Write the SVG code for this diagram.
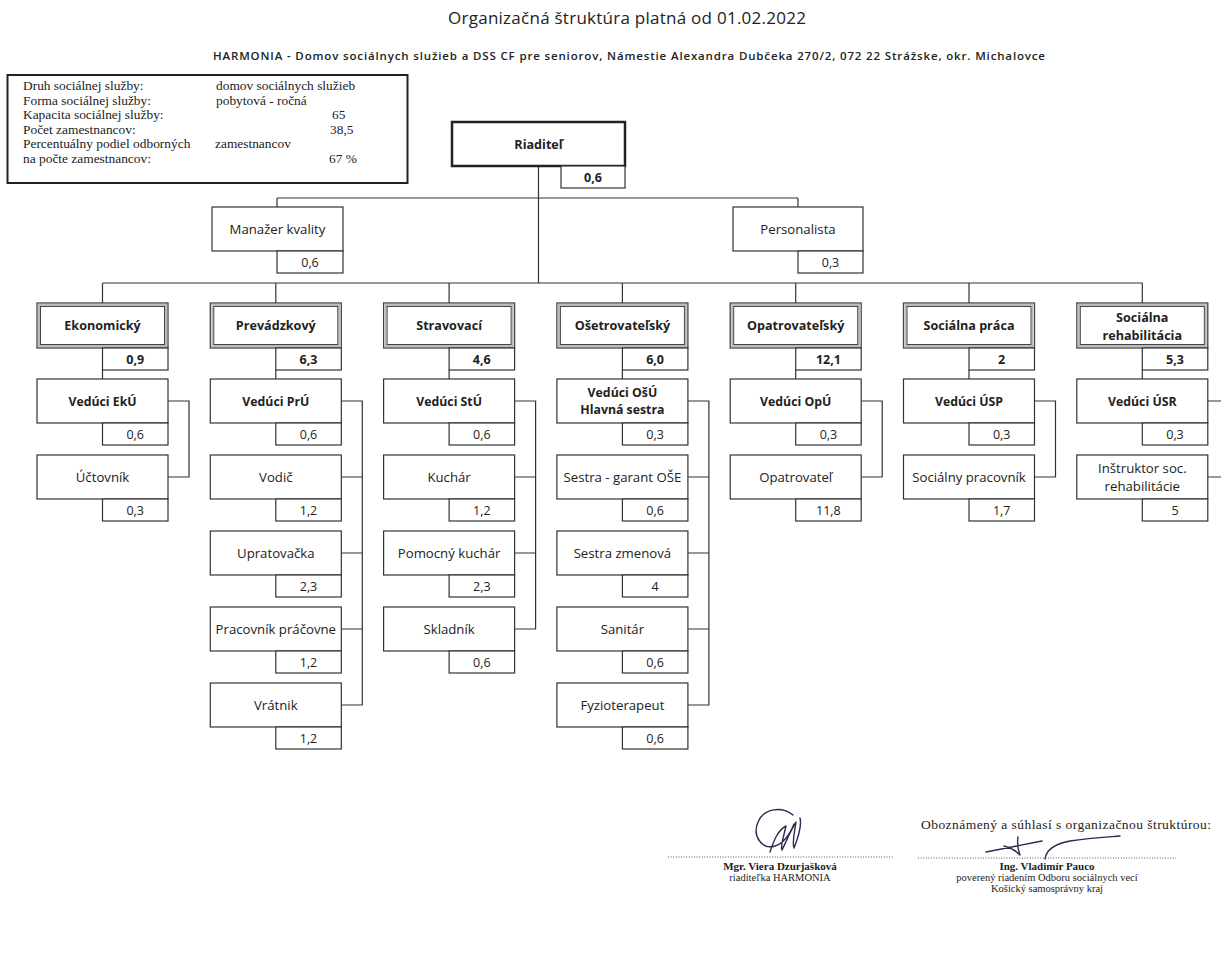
<svg xmlns="http://www.w3.org/2000/svg" width="1221" height="972" viewBox="0 0 1221 972">
<style>
  text { font-family: "Open Sans", "Noto Sans", sans-serif; fill: #222; }
  .t { font-size: 17px; }
  .st { font-size: 11.5px; font-weight: 600; }
  .c { text-anchor: middle; font-size: 13.2px; }
  .n { text-anchor: middle; font-size: 12.5px; }
  .b { font-weight: bold; font-size: 12.3px; }
  .nb { font-weight: bold; }
  .d { text-anchor: middle; font-size: 12.6px; font-weight: bold; }
  .ser { font-family: "Liberation Serif", "Times New Roman", serif; font-size: 13.4px; fill: #222; }
  .sig { font-family: "Liberation Serif", "Times New Roman", serif; font-size: 10.5px; fill: #222; text-anchor: middle; }
  .sigb { font-weight: bold; font-size: 11px; }
  .obz { font-size: 13.5px; }
  .box { fill: #fff; stroke: #333; stroke-width: 1.2; }
  .dout { fill: #fff; stroke: #444; stroke-width: 1.3; }
  .dmid { fill: none; stroke: #bbb; stroke-width: 2; }
  .din { fill: none; stroke: #444; stroke-width: 1; }
  .ln { fill: none; stroke: #333; stroke-width: 1.2; }
  .dot { stroke: #555; stroke-width: 1; stroke-dasharray: 1 1.6; }
  .ink { fill: none; stroke: #2a2a50; stroke-width: 1.4; stroke-linecap: round; stroke-linejoin: round; }
</style>
<rect width="1221" height="972" fill="#fff"/>

<text class="t" x="627" y="24" text-anchor="middle" textLength="358" lengthAdjust="spacing">Organizačná štruktúra platná od 01.02.2022</text>
<text class="st" x="629" y="60" text-anchor="middle" textLength="832" lengthAdjust="spacing">HARMONIA - Domov sociálnych služieb a DSS CF pre seniorov, Námestie Alexandra Dubčeka 270/2, 072 22 Strážske, okr. Michalovce</text>

<g id="info">
  <rect x="7.5" y="75" width="400" height="108" fill="#fff" stroke="#222" stroke-width="2"/>
  <text class="ser" x="23" y="90">Druh sociálnej služby:</text>
  <text class="ser" x="216" y="90">domov sociálnych služieb</text>
  <text class="ser" x="23" y="104.5">Forma sociálnej služby:</text>
  <text class="ser" x="216" y="104.5">pobytová - ročná</text>
  <text class="ser" x="23" y="119">Kapacita sociálnej služby:</text>
  <text class="ser" x="332" y="119">65</text>
  <text class="ser" x="23" y="133.5">Počet zamestnancov:</text>
  <text class="ser" x="330" y="133.5">38,5</text>
  <text class="ser" x="23" y="148">Percentuálny podiel odborných</text>
  <text class="ser" x="215" y="148">zamestnancov</text>
  <text class="ser" x="23" y="162.5">na počte zamestnancov:</text>
  <text class="ser" x="329" y="162.5">67 %</text>
</g>

<g id="connectors">
  <path class="ln" d="M538.5 166 V283 M277 198 H798 M277 198 V207 M798 198 V207"/>
  <path class="ln" d="M102.5 283 H1142.5 M102.5 283 V303 M275.8 283 V303 M449.1 283 V303 M622.4 283 V303 M795.7 283 V303 M969 283 V303 M1142.3 283 V303"/>
  <path class="ln" d="M102.5 370 V379 M275.8 370 V379 M449.1 370 V379 M622.4 370 V379 M795.7 370 V379 M969 370 V379 M1142.3 370 V379"/>
  <path class="ln" d="M168 401 H189 V477 H168"/>
  <path class="ln" d="M341.3 401 H362.3 V705 H341.3 M341.3 477 H362.3 M341.3 553 H362.3 M341.3 629 H362.3"/>
  <path class="ln" d="M514.6 401 H535.6 V629 H514.6 M514.6 477 H535.6 M514.6 553 H535.6"/>
  <path class="ln" d="M687.9 401 H708.9 V705 H687.9 M687.9 477 H708.9 M687.9 553 H708.9 M687.9 629 H708.9"/>
  <path class="ln" d="M861.2 401 H882.2 V477 H861.2"/>
  <path class="ln" d="M1034.5 401 H1055.5 V477 H1034.5"/>
  <path class="ln" d="M1207.8 401 H1221 M1207.8 477 H1221"/>
</g>

<g id="riaditel">
  <rect x="452" y="122" width="173" height="44" fill="#fff" stroke="#222" stroke-width="2.5"/>
  <text class="d" x="538.5" y="148.5">Riaditeľ</text>
  <rect class="box" x="561" y="166" width="64" height="22"/>
  <text class="n nb" x="593" y="181.5">0,6</text>
</g>

<g id="manazer">
  <rect class="box" x="212" y="207" width="131" height="44"/>
  <text class="c" x="277.5" y="233.5">Manažer kvality</text>
  <rect class="box" x="277" y="251" width="66" height="22"/>
  <text class="n" x="310" y="266.5">0,6</text>
</g>

<g id="personalista">
  <rect class="box" x="733" y="207" width="130" height="44"/>
  <text class="c" x="798" y="233.5">Personalista</text>
  <rect class="box" x="798" y="251" width="65" height="22"/>
  <text class="n" x="830.5" y="266.5">0,3</text>
</g>

<g id="ekonomicky">
  <rect class="dout" x="37" y="303" width="131" height="45"/><rect class="dmid" x="39" y="305" width="127" height="41"/><rect class="din" x="40.5" y="306.5" width="124" height="38"/>
  <text class="d" x="102.5" y="330">Ekonomický</text>
  <rect class="box" x="102.5" y="348" width="65.5" height="22"/><text class="n nb" x="135.2" y="363.5">0,9</text>
</g>
<g id="prevadzkovy">
  <rect class="dout" x="210.3" y="303" width="131" height="45"/><rect class="dmid" x="212.3" y="305" width="127" height="41"/><rect class="din" x="213.8" y="306.5" width="124" height="38"/>
  <text class="d" x="275.8" y="330">Prevádzkový</text>
  <rect class="box" x="275.8" y="348" width="65.5" height="22"/><text class="n nb" x="308.5" y="363.5">6,3</text>
</g>
<g id="stravovaci">
  <rect class="dout" x="383.6" y="303" width="131" height="45"/><rect class="dmid" x="385.6" y="305" width="127" height="41"/><rect class="din" x="387.1" y="306.5" width="124" height="38"/>
  <text class="d" x="449.1" y="330">Stravovací</text>
  <rect class="box" x="449.1" y="348" width="65.5" height="22"/><text class="n nb" x="481.8" y="363.5">4,6</text>
</g>
<g id="osetrovatelsky">
  <rect class="dout" x="556.9" y="303" width="131" height="45"/><rect class="dmid" x="558.9" y="305" width="127" height="41"/><rect class="din" x="560.4" y="306.5" width="124" height="38"/>
  <text class="d" x="622.4" y="330">Ošetrovateľský</text>
  <rect class="box" x="622.4" y="348" width="65.5" height="22"/><text class="n nb" x="655.1" y="363.5">6,0</text>
</g>
<g id="opatrovatelsky">
  <rect class="dout" x="730.2" y="303" width="131" height="45"/><rect class="dmid" x="732.2" y="305" width="127" height="41"/><rect class="din" x="733.7" y="306.5" width="124" height="38"/>
  <text class="d" x="795.7" y="330">Opatrovateľský</text>
  <rect class="box" x="795.7" y="348" width="65.5" height="22"/><text class="n nb" x="828.4" y="363.5">12,1</text>
</g>
<g id="socialna-praca">
  <rect class="dout" x="903.5" y="303" width="131" height="45"/><rect class="dmid" x="905.5" y="305" width="127" height="41"/><rect class="din" x="907" y="306.5" width="124" height="38"/>
  <text class="d" x="969" y="330">Sociálna práca</text>
  <rect class="box" x="969" y="348" width="65.5" height="22"/><text class="n nb" x="1001.7" y="363.5">2</text>
</g>
<g id="socialna-rehabilitacia">
  <rect class="dout" x="1076.8" y="303" width="131" height="45"/><rect class="dmid" x="1078.8" y="305" width="127" height="41"/><rect class="din" x="1080.3" y="306.5" width="124" height="38"/>
  <text class="d" x="1142.3" y="321.5">Sociálna</text>
  <text class="d" x="1142.3" y="339.5">rehabilitácia</text>
  <rect class="box" x="1142.3" y="348" width="65.5" height="22"/><text class="n nb" x="1175" y="363.5">5,3</text>
</g>

<g id="veduci-eku">
  <rect class="box" x="37" y="379" width="131" height="44"/><text class="c b" x="102.5" y="405.5">Vedúci EkÚ</text>
  <rect class="box" x="102.5" y="423" width="65.5" height="22"/><text class="n" x="135.2" y="438.5">0,6</text>
</g>
<g id="uctovnik">
  <rect class="box" x="37" y="455" width="131" height="44"/><text class="c" x="102.5" y="481.5">Účtovník</text>
  <rect class="box" x="102.5" y="499" width="65.5" height="22"/><text class="n" x="135.2" y="514.5">0,3</text>
</g>

<g id="veduci-pru">
  <rect class="box" x="210.3" y="379" width="131" height="44"/><text class="c b" x="275.8" y="405.5">Vedúci PrÚ</text>
  <rect class="box" x="275.8" y="423" width="65.5" height="22"/><text class="n" x="308.5" y="438.5">0,6</text>
</g>
<g id="vodic">
  <rect class="box" x="210.3" y="455" width="131" height="44"/><text class="c" x="275.8" y="481.5">Vodič</text>
  <rect class="box" x="275.8" y="499" width="65.5" height="22"/><text class="n" x="308.5" y="514.5">1,2</text>
</g>
<g id="upratovacka">
  <rect class="box" x="210.3" y="531" width="131" height="44"/><text class="c" x="275.8" y="557.5">Upratovačka</text>
  <rect class="box" x="275.8" y="575" width="65.5" height="22"/><text class="n" x="308.5" y="590.5">2,3</text>
</g>
<g id="pracovnik-pracovne">
  <rect class="box" x="210.3" y="607" width="131" height="44"/><text class="c" x="275.8" y="633.5">Pracovník práčovne</text>
  <rect class="box" x="275.8" y="651" width="65.5" height="22"/><text class="n" x="308.5" y="666.5">1,2</text>
</g>
<g id="vratnik">
  <rect class="box" x="210.3" y="683" width="131" height="44"/><text class="c" x="275.8" y="709.5">Vrátnik</text>
  <rect class="box" x="275.8" y="727" width="65.5" height="22"/><text class="n" x="308.5" y="742.5">1,2</text>
</g>

<g id="veduci-stu">
  <rect class="box" x="383.6" y="379" width="131" height="44"/><text class="c b" x="449.1" y="405.5">Vedúci StÚ</text>
  <rect class="box" x="449.1" y="423" width="65.5" height="22"/><text class="n" x="481.8" y="438.5">0,6</text>
</g>
<g id="kuchar">
  <rect class="box" x="383.6" y="455" width="131" height="44"/><text class="c" x="449.1" y="481.5">Kuchár</text>
  <rect class="box" x="449.1" y="499" width="65.5" height="22"/><text class="n" x="481.8" y="514.5">1,2</text>
</g>
<g id="pomocny-kuchar">
  <rect class="box" x="383.6" y="531" width="131" height="44"/><text class="c" x="449.1" y="557.5">Pomocný kuchár</text>
  <rect class="box" x="449.1" y="575" width="65.5" height="22"/><text class="n" x="481.8" y="590.5">2,3</text>
</g>
<g id="skladnik">
  <rect class="box" x="383.6" y="607" width="131" height="44"/><text class="c" x="449.1" y="633.5">Skladník</text>
  <rect class="box" x="449.1" y="651" width="65.5" height="22"/><text class="n" x="481.8" y="666.5">0,6</text>
</g>

<g id="veduci-osu">
  <rect class="box" x="556.9" y="379" width="131" height="44"/>
  <text class="c b" x="622.4" y="397">Vedúci OšÚ</text>
  <text class="c b" x="622.4" y="414">Hlavná sestra</text>
  <rect class="box" x="622.4" y="423" width="65.5" height="22"/><text class="n" x="655.1" y="438.5">0,3</text>
</g>
<g id="sestra-garant">
  <rect class="box" x="556.9" y="455" width="131" height="44"/><text class="c" x="622.4" y="481.5">Sestra - garant OŠE</text>
  <rect class="box" x="622.4" y="499" width="65.5" height="22"/><text class="n" x="655.1" y="514.5">0,6</text>
</g>
<g id="sestra-zmenova">
  <rect class="box" x="556.9" y="531" width="131" height="44"/><text class="c" x="622.4" y="557.5">Sestra zmenová</text>
  <rect class="box" x="622.4" y="575" width="65.5" height="22"/><text class="n" x="655.1" y="590.5">4</text>
</g>
<g id="sanitar">
  <rect class="box" x="556.9" y="607" width="131" height="44"/><text class="c" x="622.4" y="633.5">Sanitár</text>
  <rect class="box" x="622.4" y="651" width="65.5" height="22"/><text class="n" x="655.1" y="666.5">0,6</text>
</g>
<g id="fyzioterapeut">
  <rect class="box" x="556.9" y="683" width="131" height="44"/><text class="c" x="622.4" y="709.5">Fyzioterapeut</text>
  <rect class="box" x="622.4" y="727" width="65.5" height="22"/><text class="n" x="655.1" y="742.5">0,6</text>
</g>

<g id="veduci-opu">
  <rect class="box" x="730.2" y="379" width="131" height="44"/><text class="c b" x="795.7" y="405.5">Vedúci OpÚ</text>
  <rect class="box" x="795.7" y="423" width="65.5" height="22"/><text class="n" x="828.4" y="438.5">0,3</text>
</g>
<g id="opatrovatel">
  <rect class="box" x="730.2" y="455" width="131" height="44"/><text class="c" x="795.7" y="481.5">Opatrovateľ</text>
  <rect class="box" x="795.7" y="499" width="65.5" height="22"/><text class="n" x="828.4" y="514.5">11,8</text>
</g>

<g id="veduci-usp">
  <rect class="box" x="903.5" y="379" width="131" height="44"/><text class="c b" x="969" y="405.5">Vedúci ÚSP</text>
  <rect class="box" x="969" y="423" width="65.5" height="22"/><text class="n" x="1001.7" y="438.5">0,3</text>
</g>
<g id="socialny-pracovnik">
  <rect class="box" x="903.5" y="455" width="131" height="44"/><text class="c" x="969" y="481.5">Sociálny pracovník</text>
  <rect class="box" x="969" y="499" width="65.5" height="22"/><text class="n" x="1001.7" y="514.5">1,7</text>
</g>

<g id="veduci-usr">
  <rect class="box" x="1076.8" y="379" width="131" height="44"/><text class="c b" x="1142.3" y="405.5">Vedúci ÚSR</text>
  <rect class="box" x="1142.3" y="423" width="65.5" height="22"/><text class="n" x="1175" y="438.5">0,3</text>
</g>
<g id="instruktor">
  <rect class="box" x="1076.8" y="455" width="131" height="44"/>
  <text class="c" x="1142.3" y="473">Inštruktor soc.</text>
  <text class="c" x="1142.3" y="490.5">rehabilitácie</text>
  <rect class="box" x="1142.3" y="499" width="65.5" height="22"/><text class="n" x="1175" y="514.5">5</text>
</g>

<g id="signatures">
  <text class="sig obz" x="1066" y="829" textLength="290" lengthAdjust="spacing">Oboznámený a súhlasí s organizačnou štruktúrou:</text>
  <path class="ink" d="M793 815 C782 806 764 808 758 822 C752 836 762 850 775 846 C784 843 790 834 794 824 M770 852 C774 840 778 830 786 826 C784 836 780 846 782 850 C786 842 790 832 796 822 C794 834 792 844 794 848 C798 838 802 826 800 818"/>
  <line class="dot" x1="668" y1="857" x2="893" y2="857"/>
  <text class="sig sigb" x="780" y="870">Mgr. Viera Dzurjašková</text>
  <text class="sig" x="780" y="881">riaditeľka HARMONIA</text>
  <path class="ink" d="M986 852 C1002 849 1022 845 1042 841 M1004 846 C1012 848 1016 851 1020 855 C1018 850 1017 844 1018 837 M1045 859 C1046 851 1054 844 1070 841 C1090 838 1108 837 1120 836"/>
  <line class="dot" x1="918" y1="858" x2="1176" y2="858"/>
  <text class="sig sigb" x="1047" y="870">Ing. Vladimír Pauco</text>
  <text class="sig" x="1047" y="881">poverený riadením Odboru sociálnych vecí</text>
  <text class="sig" x="1047" y="892">Košický samosprávny kraj</text>
</g>
</svg>
